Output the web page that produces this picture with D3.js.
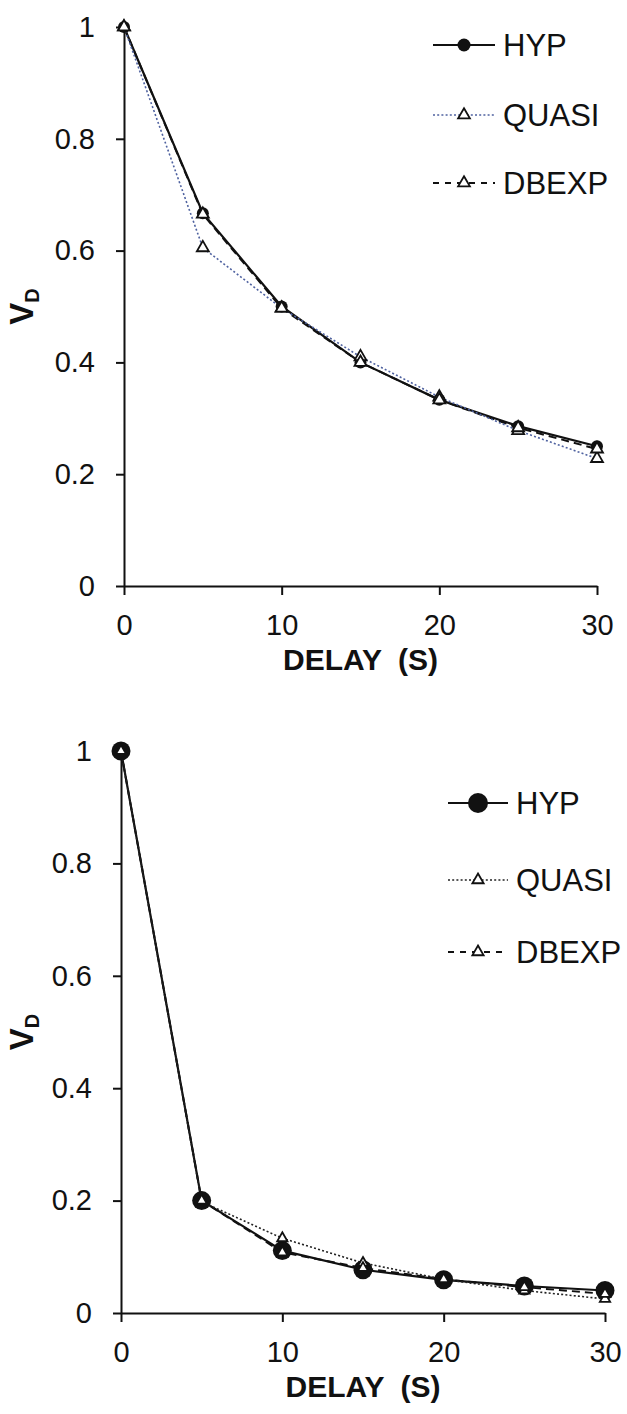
<!DOCTYPE html>
<html>
<head>
<meta charset="utf-8">
<script src="https://cdn.jsdelivr.net/npm/d3@7"></script>
<style>
  html, body { margin: 0; padding: 0; background: #fff; }
  svg { display: block; font-family: "Liberation Sans", Arial, sans-serif; }
</style>
</head>
<body>
<svg id="chart" width="627" height="1414"></svg>
<script>
// Delay values (seconds)
const delays = [0, 5, 10, 15, 20, 25, 30];

// Upper panel: discounted value per model
const hypA   = [1, 0.667, 0.5, 0.4, 0.333, 0.286, 0.25];
const quasiA = [1, 0.605, 0.497, 0.41, 0.338, 0.278, 0.228];
const dbexpA = [1, 0.665, 0.497, 0.40, 0.333, 0.283, 0.245];

// Lower panel: discounted value per model
const hypB   = [1, 0.2, 0.111, 0.077, 0.059, 0.048, 0.04];
const quasiB = [1, 0.198, 0.133, 0.089, 0.06, 0.04, 0.025];
const dbexpB = [1, 0.2, 0.108, 0.08, 0.06, 0.046, 0.034];

// Axis ticks
const xTicks = [0, 10, 20, 30];
const yTicks = [0, 0.2, 0.4, 0.6, 0.8, 1];

// Legend names
const seriesNames = ["HYP", "QUASI", "DBEXP"];

const svg = d3.select("#chart");

const panels = [
  {
    series: [hypA, quasiA, dbexpA],
    x0: 124, x1: 597, y0: 586, y1: 27,
    circleR: 6, triSize: 62, quasiColor: "#4f62a0",
    legend: { x: 433, lineW: 62, rows: [45, 115, 183] },
    legendCircleR: 6.5, legendTri: 60
  },
  {
    series: [hypB, quasiB, dbexpB],
    x0: 121, x1: 605, y0: 1313, y1: 751,
    circleR: 9.5, triSize: 46, quasiColor: "#222",
    legend: { x: 448, lineW: 60, rows: [803, 880, 952] },
    legendCircleR: 10, legendTri: 55
  }
];

const tri = s => d3.symbol().type(d3.symbolTriangle).size(s)();

panels.forEach(p => {
  const x = d3.scaleLinear().domain([0, 30]).range([p.x0, p.x1]);
  const y = d3.scaleLinear().domain([0, 1]).range([p.y0, p.y1]);
  const g = svg.append("g");

  // Axes
  const xAxis = g.append("g")
    .attr("transform", `translate(0,${p.y0})`)
    .call(d3.axisBottom(x).tickValues(xTicks).tickFormat(d3.format("d"))
      .tickSize(9).tickSizeOuter(0).tickPadding(19));
  const yAxis = g.append("g")
    .attr("transform", `translate(${p.x0},0)`)
    .call(d3.axisLeft(y).tickValues(yTicks).tickFormat(d => d === 0 || d === 1 ? d3.format("d")(d) : d3.format(".1f")(d))
      .tickSize(8).tickSizeOuter(0).tickPadding(21));
  [xAxis, yAxis].forEach(a => {
    a.select(".domain").attr("stroke", "#111").attr("stroke-width", 2);
    a.selectAll(".tick line").attr("stroke", "#111").attr("stroke-width", 2);
    a.selectAll(".tick text").attr("font-size", 29).attr("fill", "#111")
      .attr("font-family", "'Liberation Sans', Arial, sans-serif");
  });

  // Axis titles
  g.append("text")
    .attr("x", (p.x0 + p.x1) / 2)
    .attr("y", p.y0 + 84)
    .attr("text-anchor", "middle")
    .style("white-space", "pre")
    .attr("font-size", 30).attr("font-weight", "bold").attr("fill", "#111")
    .text("DELAY  (S)");

  const yt = g.append("text")
    .attr("transform", `translate(33,${(p.y0 + p.y1) / 2}) rotate(-90)`)
    .attr("text-anchor", "middle")
    .attr("font-weight", "bold").attr("fill", "#111");
  yt.append("tspan").attr("font-size", 33).text("V");
  yt.append("tspan").attr("font-size", 20).attr("dy", 6).text("D");

  const pts = s => delays.map((d, i) => [x(d), y(s[i])]);
  const line = d3.line();

  const styles = [
    { stroke: "#111", width: 2.2, dash: null },
    { stroke: p.quasiColor, width: 1.6, dash: "2,2.2" },
    { stroke: "#111", width: 2, dash: "8,5" }
  ];

  // Lines: HYP, DBEXP, then QUASI
  [0, 2, 1].forEach(k => {
    g.append("path")
      .attr("d", line(pts(p.series[k])))
      .attr("fill", "none")
      .attr("stroke", styles[k].stroke)
      .attr("stroke-width", styles[k].width)
      .attr("stroke-dasharray", styles[k].dash);
  });

  // Markers
  g.append("g").selectAll("circle").data(pts(p.series[0])).join("circle")
    .attr("cx", d => d[0]).attr("cy", d => d[1]).attr("r", p.circleR)
    .attr("fill", "#111");
  [1, 2].forEach(k => {
    g.append("g").selectAll("path").data(pts(p.series[k])).join("path")
      .attr("transform", d => `translate(${d[0]},${d[1]})`)
      .attr("d", tri(p.triSize))
      .attr("fill", "#fff").attr("stroke", "#111").attr("stroke-width", 1.8);
  });

  // Legend
  const L = p.legend;
  const legendDash = [null, "2,2.2", "6,6"];
  seriesNames.forEach((name, k) => {
    const ly = L.rows[k];
    const lg = g.append("g");
    lg.append("line")
      .attr("x1", L.x).attr("x2", L.x + L.lineW)
      .attr("y1", ly).attr("y2", ly)
      .attr("stroke", styles[k].stroke)
      .attr("stroke-width", styles[k].width)
      .attr("stroke-dasharray", legendDash[k]);
    const cx = L.x + L.lineW / 2;
    if (k === 0) {
      lg.append("circle").attr("cx", cx).attr("cy", ly).attr("r", p.legendCircleR).attr("fill", "#111");
    } else {
      lg.append("path").attr("transform", `translate(${cx},${ly})`)
        .attr("d", tri(p.legendTri))
        .attr("fill", "#fff").attr("stroke", "#111").attr("stroke-width", 1.8);
    }
    lg.append("text")
      .attr("x", L.x + L.lineW + 8).attr("y", ly)
      .attr("dy", "0.36em")
      .attr("font-size", 31).attr("fill", "#111")
      .text(name);
  });
});
</script>
</body>
</html>
